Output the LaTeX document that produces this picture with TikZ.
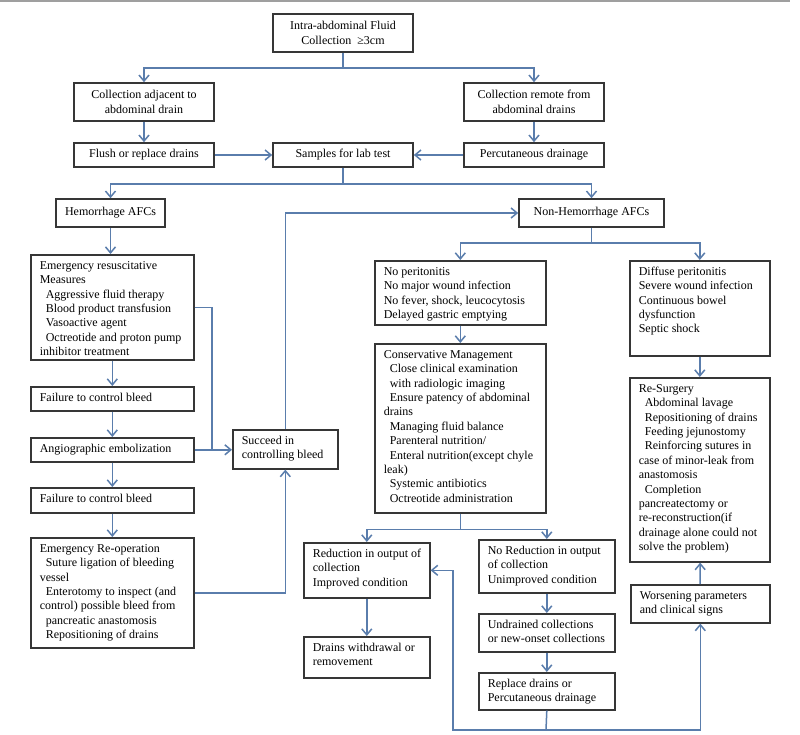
\documentclass[tikz,border=0pt]{standalone}
\usepackage{fontspec}
\setmainfont{Liberation Serif}
\usetikzlibrary{arrows.meta,calc}
\definecolor{lnc}{HTML}{5A7DAC}
\definecolor{bdc}{HTML}{363636}
\newcommand\lbx[3]{\begin{minipage}[c][#2][t]{#1}\vspace*{4.5pt}\renewcommand\arraystretch{1}\begin{tabular}[t]{@{}l@{}}#3\end{tabular}\end{minipage}}
\newcommand\ii{\hspace*{6pt}}
\begin{document}
\begin{tikzpicture}[x=1pt,y=-1pt,
 box/.style={draw=bdc, line width=1.6pt, inner sep=0pt, font=\fontsize{12}{14.4}\selectfont},
 cbox/.style={box, align=center},
 lbox/.style={box, inner xsep=9pt, inner ysep=0pt, anchor=north west},
 arr/.style={draw=lnc, line width=1.5pt, -{Straight Barb[length=6pt,width=10pt]}},
 conn/.style={draw=lnc, line width=1.5pt}]
\useasboundingbox (0,0) rectangle (800,734);
\fill[white] (0,0) rectangle (800,734);
\draw[gray!75, line width=1.5pt] (0,0.75) -- (790,0.75);

% top part
\node[cbox, minimum width=140pt, minimum height=38pt] (top) at (343,33) {Intra-abdominal Fluid\\Collection\ \ ≥3cm};
\node[cbox, minimum width=140pt, minimum height=38pt] (adj) at (144,102) {Collection adjacent to\\abdominal drain};
\node[cbox, minimum width=140pt, minimum height=38pt] (rem) at (534,102) {Collection remote from\\abdominal drains};
\node[cbox, minimum width=140pt, minimum height=24pt] (flush) at (144,155) {Flush or replace drains};
\node[cbox, minimum width=140pt, minimum height=24pt] (samp) at (343,155) {Samples for lab test};
\node[cbox, minimum width=140pt, minimum height=24pt] (perc) at (534,155) {Percutaneous drainage};
\node[cbox, minimum width=109pt, minimum height=28pt] (hem) at (110.5,213) {Hemorrhage AFCs};
\node[cbox, minimum width=145pt, minimum height=28pt] (nonhem) at (591.5,213) {Non-Hemorrhage AFCs};

% left column
\node[lbox] (resus) at (30,254) {\lbx{145pt}{105pt}{Emergency resuscitative\\Measures\\\ii Aggressive fluid therapy\\\ii Blood product transfusion\\\ii Vasoactive agent\\\ii Octreotide and proton pump\\inhibitor treatment}};
\node[lbox] (fail1) at (30,386) {\lbx{145pt}{24pt}{Failure to control bleed}};
\node[lbox] (angio) at (30,437) {\lbx{145pt}{24pt}{Angiographic embolization}};
\node[lbox] (fail2) at (30,487) {\lbx{145pt}{25pt}{Failure to control bleed}};
\node[lbox] (reop) at (30,537) {\lbx{145pt}{110pt}{Emergency Re-operation\\\ii Suture ligation of bleeding\\vessel\\\ii Enterotomy to inspect (and\\control) possible bleed from\\\ii pancreatic anastomosis\\\ii Repositioning of drains}};
\node[lbox] (succ) at (232,429) {\lbx{87pt}{39pt}{Succeed in\\controlling bleed}};

% right part
\node[lbox] (nop) at (374,260) {\lbx{153pt}{64pt}{No peritonitis\\No major wound infection\\No fever, shock, leucocytosis\\Delayed gastric emptying}};
\node[lbox] (dif) at (629,260) {\lbx{122pt}{95pt}{Diffuse peritonitis\\Severe wound infection\\Continuous bowel\\dysfunction\\Septic shock}};
\node[lbox] (cons) at (374,343) {\lbx{153pt}{169pt}{Conservative Management\\\ii Close clinical examination\\\ii with radiologic imaging\\\ii Ensure patency of abdominal\\drains\\\ii Managing fluid balance\\\ii Parenteral nutrition/\\\ii Enteral nutrition(except chyle\\leak)\\\ii Systemic antibiotics\\\ii Octreotide administration}};
\node[lbox] (resurg) at (629,377) {\lbx{122pt}{184pt}{Re-Surgery\\\ii Abdominal lavage\\\ii Repositioning of drains\\\ii Feeding jejunostomy\\\ii Reinforcing sutures in\\case of minor-leak from\\anastomosis\\\ii Completion\\pancreatectomy or\\re-reconstruction(if\\drainage alone could not\\solve the problem)}};
\node[lbox] (red) at (303,542) {\lbx{108pt}{55pt}{Reduction in output of\\collection\\Improved condition}};
\node[lbox] (nored) at (478,539) {\lbx{118pt}{53pt}{No Reduction in output\\of collection\\Unimproved condition}};
\node[lbox] (drw) at (303,636) {\lbx{108pt}{41pt}{Drains withdrawal or\\removement}};
\node[lbox] (undr) at (478,613) {\lbx{118pt}{38pt}{Undrained collections\\or new-onset collections}};
\node[lbox] (repl) at (478,672) {\lbx{118pt}{37pt}{Replace drains or\\Percutaneous drainage}};
\node[lbox] (wors) at (630,584) {\lbx{121pt}{38pt}{Worsening parameters\\and clinical signs}};

% connectors
\draw[arr] (top.south) -- ++(0,15) -| (adj.north);
\draw[arr] (top.south) -- ++(0,15) -| (rem.north);
\draw[arr] (adj) -- (flush);
\draw[arr] (rem) -- (perc);
\draw[arr] (flush) -- (samp);
\draw[arr] (perc) -- (samp);
\draw[arr] (samp.south) -- ++(0,16) -| (hem.north);
\draw[arr] (samp.south) -- ++(0,16) -| (nonhem.north);
\draw[arr] (hem.south) -- (hem.south |- resus.north);
\draw[arr] (resus.south) -- (fail1.north);
\draw[arr] (fail1.south) -- (angio.north);
\draw[arr] (angio.south) -- (fail2.north);
\draw[arr] (fail2.south) -- (reop.north);
\coordinate (j1) at (212,449);
\draw[conn] (resus.east) -| (j1);
\draw[arr] (angio.east) -- (angio.east -| succ.west);
\draw[arr] (reop.east) -| (succ.south);
\draw[arr] (succ.north) |- (nonhem.west);
\draw[arr] (nonhem.south) -- ++(0,15) -| (nop.north);
\draw[arr] (nonhem.south) -- ++(0,15) -| (dif.north);
\draw[arr] (nop) -- (cons);
\draw[arr] (dif) -- (resurg);
\draw[arr] (cons.south) -- ++(0,16) -| (red.north);
\draw[arr] (cons.south) -- ++(0,16) -| (nored.north);
\draw[arr] (red) -- (drw);
\draw[arr] (nored) -- (undr);
\draw[arr] (undr) -- (repl);
\coordinate (b) at (546,730);
\coordinate (bl) at (453,730);
\draw[conn] (repl.south) -- (b);
\draw[arr] (b) -- (bl) |- (red.east);
\draw[arr] (b) -| (wors.south);
\draw[arr] (wors) -- (resurg);
\end{tikzpicture}
\end{document}
